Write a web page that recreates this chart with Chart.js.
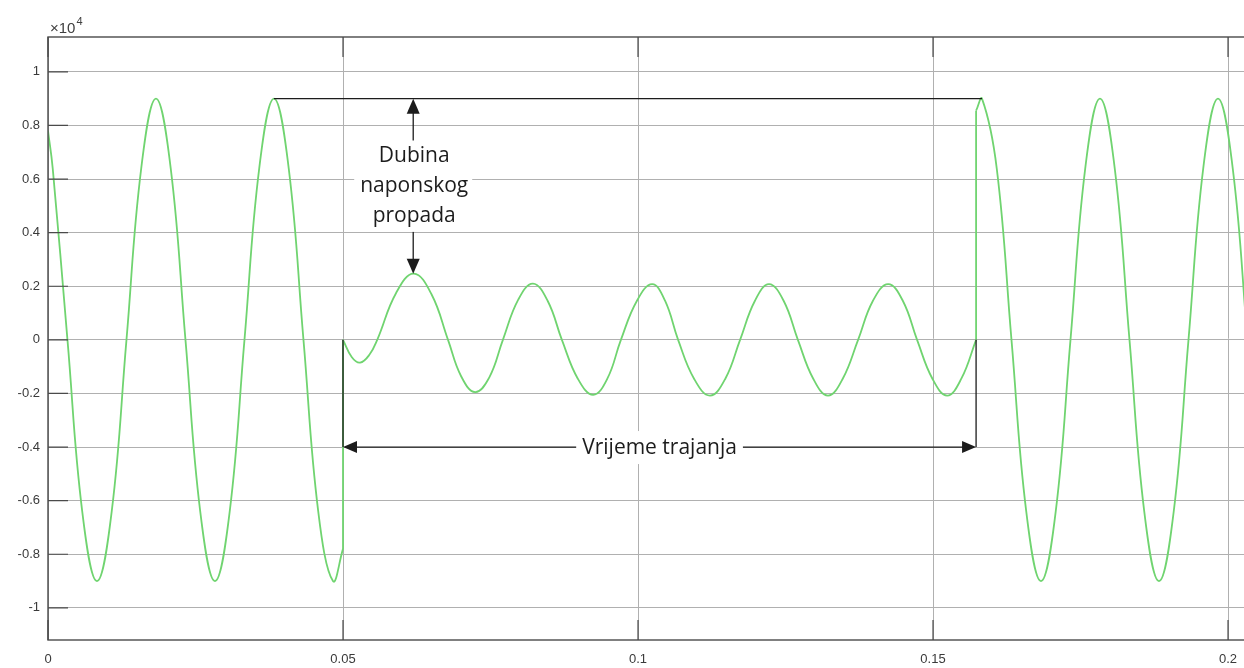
<!DOCTYPE html>
<html>
<head>
<meta charset="utf-8">
<script src="https://cdn.jsdelivr.net/npm/chart.js@4.4.1/dist/chart.umd.min.js"></script>
<style>
  html, body { margin: 0; padding: 0; background: #fff; overflow: hidden; }
  #wrap { width: 1244px; height: 668px; overflow: hidden; }
  canvas { display: block; }
</style>
</head>
<body>
<div id="wrap"><canvas id="sag" width="1300" height="668"></canvas></div>
<script>
// voltage before the sag (time in s, value in V)
const preT = [0, 0.0008, 0.0033, 0.0058, 0.0083, 0.0108, 0.0133, 0.0158, 0.0183, 0.0208, 0.0233,
  0.0258, 0.0283, 0.0308, 0.0333, 0.0358, 0.0383, 0.0408, 0.0433, 0.0458, 0.0483, 0.05];
const preV = [7800, 6400, 0, -6400, -9000, -6400, 0, 6400, 9000, 6400, 0,
  -6400, -9000, -6400, 0, 6400, 9000, 6400, 0, -6400, -9000, -7800];

// during the sag
const dipT = [0.05, 0.0515, 0.0529, 0.0545, 0.0558, 0.059, 0.062, 0.065, 0.0678, 0.07, 0.0724,
  0.0748, 0.0771, 0.0797, 0.0822, 0.0847, 0.0871, 0.0898, 0.0924, 0.0948, 0.0971, 0.0998,
  0.1024, 0.1046, 0.1068, 0.1095, 0.1122, 0.1148, 0.1173, 0.1198, 0.1222, 0.1247, 0.1271,
  0.1297, 0.1322, 0.1347, 0.1373, 0.1398, 0.1424, 0.1449, 0.1473, 0.1499, 0.1524, 0.1548, 0.1573];
const dipV = [0, -650, -850, -550, 0, 1750, 2470, 1700, 0, -1350, -1950,
  -1400, 0, 1500, 2100, 1450, 0, -1450, -2050, -1450, 0, 1450,
  2080, 1450, 0, -1450, -2080, -1450, 0, 1450, 2080, 1450, 0,
  -1450, -2080, -1450, 0, 1450, 2080, 1450, 0, -1450, -2080, -1450, 0];

// after recovery
const postT = [0.1573, 0.1583, 0.1608, 0.1633, 0.1658, 0.1683, 0.1708, 0.1733, 0.1758, 0.1783,
  0.1808, 0.1833, 0.1858, 0.1883, 0.1908, 0.1933, 0.1958, 0.1983, 0.2008, 0.2033, 0.2058, 0.2083];
const postV = [8550, 9000, 6400, 0, -6400, -9000, -6400, 0, 6400, 9000,
  6400, 0, -6400, -9000, -6400, 0, 6400, 9000, 6400, 0, -6400, -9000];

const xTicks = [0, 0.05, 0.1, 0.15, 0.2];
const xTickLabels = ['0', '0.05', '0.1', '0.15', '0.2'];
const yTicks = [-10000, -8000, -6000, -4000, -2000, 0, 2000, 4000, 6000, 8000, 10000];
const yTickLabels = ['-1', '-0.8', '-0.6', '-0.4', '-0.2', '0', '0.2', '0.4', '0.6', '0.8', '1'];

// annotation anchors (data units)
const peakRef = { from: 0.0383, to: 0.1583, level: 9000 };
const depthMark = { t: 0.0619, top: 9000, bottom: 2470, lines: ['Dubina', 'naponskog', 'propada'] };
const spanMark = { start: 0.05, end: 0.1573, level: -4000, base: 0, text: 'Vrijeme trajanja' };

const pts = (t, v) => t.map((x, i) => ({ x: x, y: v[i] }));
const green = 'rgb(112, 212, 112)';
const waveStyle = { borderColor: green, borderWidth: 1.8, pointRadius: 0, fill: false, tension: 0.42 };
const jumpStyle = { borderColor: green, borderWidth: 1.8, pointRadius: 0, fill: false, tension: 0 };

function arrowHead(ctx, tx, ty, dx, dy, len, half) {
  const bx = tx - dx * len, by = ty - dy * len;
  ctx.beginPath();
  ctx.moveTo(tx, ty);
  ctx.lineTo(bx - dy * half, by + dx * half);
  ctx.lineTo(bx + dy * half, by - dx * half);
  ctx.closePath();
  ctx.fill();
}

function seg(ctx, x1, y1, x2, y2) {
  ctx.beginPath(); ctx.moveTo(x1, y1); ctx.lineTo(x2, y2); ctx.stroke();
}

const notes = {
  id: 'notes',
  afterDatasetsDraw(chart) {
    const { ctx, scales: { x, y } } = chart;
    const px = v => x.getPixelForValue(v), py = v => y.getPixelForValue(v);
    ctx.save();
    ctx.strokeStyle = '#1c1c1c';
    ctx.fillStyle = '#1c1c1c';
    ctx.lineWidth = 1.3;

    // reference line at the nominal peak
    seg(ctx, px(peakRef.from), py(peakRef.level), px(peakRef.to), py(peakRef.level));

    // sag depth arrow with label
    ctx.font = '21px "Open Sans"';
    const dx = px(depthMark.t), top = py(depthMark.top), bot = py(depthMark.bottom);
    const lh = 30, boxH = depthMark.lines.length * lh + 1;
    const mid = (top + bot) / 2;
    const boxW = Math.max(...depthMark.lines.map(s => ctx.measureText(s).width)) + 10;
    seg(ctx, dx, top + 10, dx, mid - boxH / 2);
    seg(ctx, dx, mid + boxH / 2, dx, bot - 10);
    arrowHead(ctx, dx, top, 0, -1, 15, 6.5);
    arrowHead(ctx, dx, bot, 0, 1, 15, 6.5);
    ctx.fillStyle = '#fff';
    ctx.fillRect(dx - boxW / 2, mid - boxH / 2, boxW, boxH);
    ctx.fillStyle = '#1c1c1c';
    ctx.textAlign = 'center';
    ctx.textBaseline = 'middle';
    depthMark.lines.forEach((s, i) => {
      ctx.fillText(s, dx + 1, mid + (i - (depthMark.lines.length - 1) / 2) * lh);
    });

    // duration arrow with label
    const x1 = px(spanMark.start), x2 = px(spanMark.end), ly = py(spanMark.level);
    seg(ctx, x1, py(spanMark.base), x1, ly);
    seg(ctx, x2, py(spanMark.base), x2, ly);
    seg(ctx, x1 + 10, ly, x2 - 10, ly);
    arrowHead(ctx, x1, ly, -1, 0, 14, 6);
    arrowHead(ctx, x2, ly, 1, 0, 14, 6);
    const tw = ctx.measureText(spanMark.text).width + 12;
    const cx = (x1 + x2) / 2;
    ctx.fillStyle = '#fff';
    ctx.fillRect(cx - tw / 2, ly - 16, tw, 33);
    ctx.fillStyle = '#1c1c1c';
    ctx.fillText(spanMark.text, cx, ly + 1);
    ctx.restore();
  }
};

const frame = {
  id: 'frame',
  afterDraw(chart) {
    const { ctx, chartArea: a, scales: { x, y } } = chart;
    ctx.save();
    ctx.strokeStyle = '#4a4a4a';
    ctx.lineWidth = 1.4;
    ctx.strokeRect(a.left, a.top, a.right - a.left, a.bottom - a.top);
    ctx.lineWidth = 1.2;
    ctx.beginPath();
    x.ticks.forEach(t => {
      const p = x.getPixelForValue(t.value);
      ctx.moveTo(p, a.bottom); ctx.lineTo(p, a.bottom - 20);
      ctx.moveTo(p, a.top); ctx.lineTo(p, a.top + 20);
    });
    y.ticks.forEach(t => {
      const p = y.getPixelForValue(t.value);
      ctx.moveTo(a.left, p); ctx.lineTo(a.left + 20, p);
    });
    ctx.stroke();
    // exponent label
    ctx.fillStyle = '#404040';
    ctx.textBaseline = 'alphabetic';
    ctx.font = '15px "Liberation Sans"';
    ctx.fillText('\u00d710', a.left + 2, a.top - 4);
    const w = ctx.measureText('\u00d710').width;
    ctx.font = '11px "Liberation Sans"';
    ctx.fillText('4', a.left + 3 + w, a.top - 12);
    ctx.restore();
  }
};

new Chart(document.getElementById('sag'), {
  type: 'line',
  data: {
    datasets: [
      Object.assign({ data: pts(preT, preV) }, waveStyle),
      Object.assign({ data: [{ x: preT[preT.length - 1], y: preV[preV.length - 1] }, { x: dipT[0], y: dipV[0] }] }, jumpStyle),
      Object.assign({ data: pts(dipT, dipV) }, waveStyle),
      Object.assign({ data: [{ x: dipT[dipT.length - 1], y: dipV[dipV.length - 1] }, { x: postT[0], y: postV[0] }] }, jumpStyle),
      Object.assign({ data: pts(postT, postV) }, waveStyle)
    ]
  },
  options: {
    responsive: false,
    animation: false,
    layout: { padding: { top: 37, left: 0, right: 0, bottom: 0 } },
    plugins: { legend: { display: false }, tooltip: { enabled: false } },
    scales: {
      x: {
        type: 'linear',
        min: 0,
        max: 0.2122,
        afterBuildTicks: s => { s.ticks = xTicks.map(v => ({ value: v })); },
        afterFit: s => { s.height = 28; },
        grid: { color: '#b0b0b0', lineWidth: 1, drawTicks: false },
        border: { display: false },
        ticks: {
          padding: 12,
          color: '#3a3a3a',
          font: { family: 'Liberation Sans', size: 13 },
          maxRotation: 0,
          callback: v => xTickLabels[xTicks.indexOf(v)]
        }
      },
      y: {
        min: -11200,
        max: 11300,
        afterBuildTicks: s => { s.ticks = yTicks.map(v => ({ value: v })); },
        afterFit: s => { s.width = 48; },
        grid: { color: '#b0b0b0', lineWidth: 1, drawTicks: false },
        border: { display: false },
        ticks: {
          padding: 8,
          color: '#3a3a3a',
          font: { family: 'Liberation Sans', size: 13 },
          callback: v => yTickLabels[yTicks.indexOf(v)]
        }
      }
    }
  },
  plugins: [notes, frame]
});
</script>
</body>
</html>
